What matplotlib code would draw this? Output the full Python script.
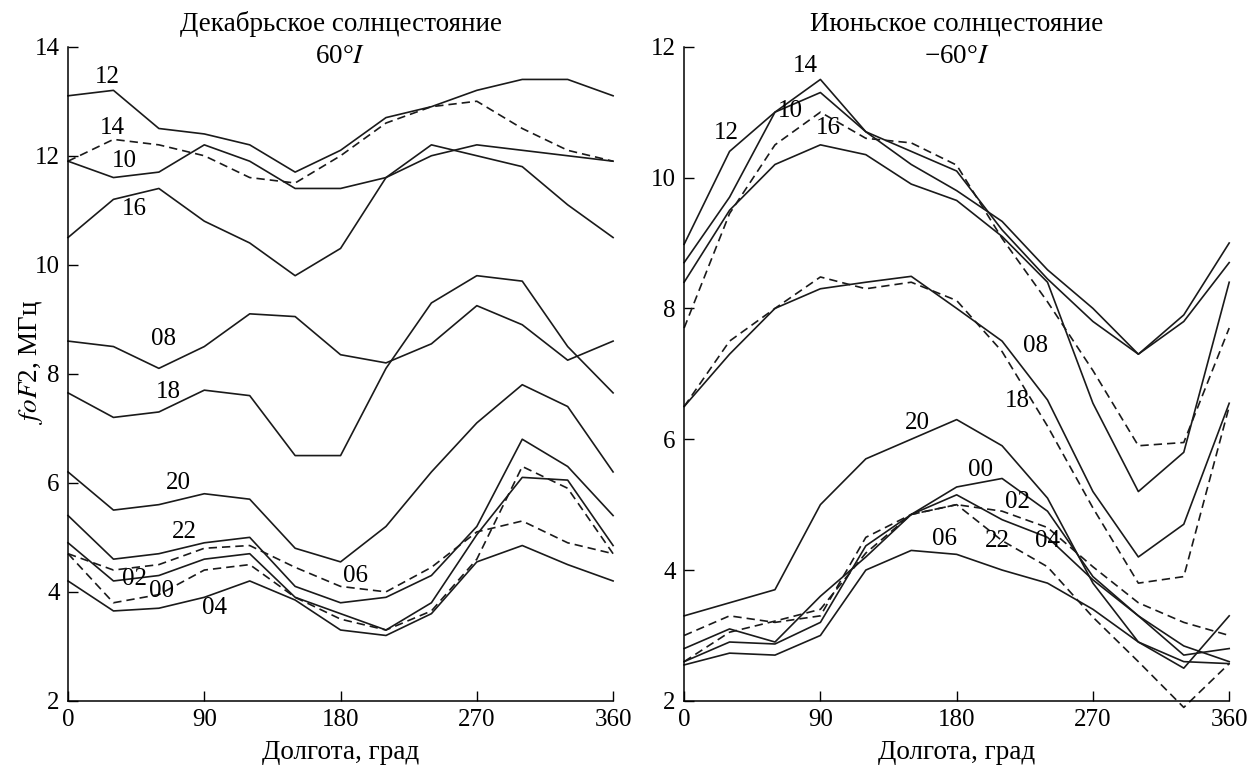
import matplotlib
matplotlib.use('Agg')
import matplotlib.pyplot as plt

# долгота, град
lon = [0, 30, 60, 90, 120, 150, 180, 210, 240, 270, 300, 330, 360]

# Декабрьское солнцестояние, 60°I
dec_12 = [13.1, 13.2, 12.5, 12.4, 12.2, 11.7, 12.1, 12.7, 12.9, 13.2, 13.4, 13.4, 13.1]
dec_14 = [11.9, 12.3, 12.2, 12.0, 11.6, 11.5, 12.0, 12.6, 12.9, 13.0, 12.5, 12.1, 11.9]
dec_10 = [11.9, 11.6, 11.7, 12.2, 11.9, 11.4, 11.4, 11.6, 12.0, 12.2, 12.1, 12.0, 11.9]
dec_16 = [10.5, 11.2, 11.4, 10.8, 10.4, 9.8, 10.3, 11.6, 12.2, 12.0, 11.8, 11.1, 10.5]
dec_08 = [8.6, 8.5, 8.1, 8.5, 9.1, 9.05, 8.35, 8.2, 8.55, 9.25, 8.9, 8.25, 8.6]
dec_18 = [7.65, 7.2, 7.3, 7.7, 7.6, 6.5, 6.5, 8.1, 9.3, 9.8, 9.7, 8.5, 7.65]
dec_20 = [6.2, 5.5, 5.6, 5.8, 5.7, 4.8, 4.55, 5.2, 6.2, 7.1, 7.8, 7.4, 6.2]
dec_22 = [5.4, 4.6, 4.7, 4.9, 5.0, 4.1, 3.8, 3.9, 4.3, 5.2, 6.8, 6.3, 5.4]
dec_02 = [4.9, 4.2, 4.3, 4.6, 4.7, 3.9, 3.6, 3.3, 3.8, 5.05, 6.1, 6.05, 4.85]
dec_00 = [4.7, 3.8, 3.95, 4.4, 4.5, 3.9, 3.5, 3.3, 3.65, 4.6, 6.3, 5.9, 4.7]
dec_06 = [4.7, 4.4, 4.5, 4.8, 4.85, 4.45, 4.1, 4.0, 4.45, 5.1, 5.3, 4.9, 4.7]
dec_04 = [4.2, 3.65, 3.7, 3.9, 4.2, 3.85, 3.3, 3.2, 3.6, 4.55, 4.85, 4.5, 4.2]

# Июньское солнцестояние, -60°I
jun_12 = [8.98, 10.4, 11.0, 11.3, 10.7, 10.2, 9.8, 9.33, 8.59, 8.0, 7.3, 7.9, 9.0]
jun_14 = [8.7, 9.7, 11.0, 11.5, 10.7, 10.4, 10.1, 9.2, 8.45, 7.8, 7.3, 7.8, 8.7]
jun_10 = [8.4, 9.5, 10.2, 10.5, 10.35, 9.9, 9.65, 9.1, 8.4, 6.55, 5.2, 5.8, 8.4]
jun_16 = [7.7, 9.45, 10.5, 11.0, 10.6, 10.53, 10.19, 9.07, 8.1, 7.05, 5.9, 5.95, 7.7]
jun_08 = [6.5, 7.3, 8.0, 8.3, 8.4, 8.49, 8.0, 7.5, 6.6, 5.2, 4.2, 4.7, 6.55]
jun_18 = [6.5, 7.5, 8.0, 8.48, 8.3, 8.4, 8.12, 7.34, 6.2, 4.95, 3.8, 3.9, 6.5]
jun_20 = [3.3, 3.5, 3.7, 5.0, 5.7, 6.0, 6.3, 5.9, 5.1, 3.8, 2.9, 2.5, 3.3]
jun_00 = [2.8, 3.1, 2.9, 3.6, 4.2, 4.85, 5.27, 5.4, 4.9, 3.9, 3.3, 2.7, 2.8]
jun_04 = [2.6, 2.9, 2.87, 3.2, 4.37, 4.85, 5.15, 4.77, 4.5, 3.85, 3.3, 2.84, 2.6]
jun_06 = [2.55, 2.73, 2.7, 3.0, 4.0, 4.3, 4.24, 4.0, 3.8, 3.4, 2.9, 2.6, 2.57]
jun_02 = [3.0, 3.3, 3.2, 3.3, 4.5, 4.85, 5.0, 4.9, 4.65, 4.05, 3.5, 3.2, 3.0]
jun_22 = [2.6, 3.05, 3.22, 3.4, 4.26, 4.85, 5.0, 4.45, 4.05, 3.28, 2.6, 1.9, 2.57]

# (series, dashed?, label, label x, label y)
dec_lines = [
    (dec_12, False, '12', 26, 13.45), (dec_14, True, '14', 29, 12.5),
    (dec_10, False, '10', 37, 11.9), (dec_16, False, '16', 44, 11.03),
    (dec_08, False, '08', 63, 8.63), (dec_18, False, '18', 66, 7.67),
    (dec_20, False, '20', 73, 6.0), (dec_22, False, '22', 77, 5.09),
    (dec_02, False, '02', 44, 4.23), (dec_00, True, '00', 62, 4.02),
    (dec_06, True, '06', 190, 4.29), (dec_04, False, '04', 97, 3.71),
]
jun_lines = [
    (jun_12, False, '12', 28, 10.68), (jun_14, False, '14', 80, 11.7),
    (jun_10, False, '10', 70, 11.01), (jun_16, True, '16', 95, 10.76),
    (jun_08, False, '08', 232, 7.43), (jun_18, True, '18', 220, 6.58),
    (jun_20, False, '20', 154, 6.25), (jun_00, False, '00', 196, 5.53),
    (jun_02, True, '02', 220, 5.04), (jun_06, False, '06', 172, 4.47),
    (jun_22, True, '22', 207, 4.45), (jun_04, False, '04', 240, 4.45),
]

plt.rcParams['font.family'] = ['Liberation Serif', 'DejaVu Serif']
plt.rcParams['mathtext.fontset'] = 'stix'
fs = 18
fs_big = 19.5

fig = plt.figure(figsize=(12.53, 7.66), dpi=100)
ax1 = fig.add_axes([0.0543, 0.085, 0.435, 0.854])
ax2 = fig.add_axes([0.546, 0.085, 0.435, 0.854])


def draw(ax, lines, ylim, title, sub):
    for ys, dashed, lab, lx, ly in lines:
        ls = (0, (5, 3)) if dashed else '-'
        ax.plot(lon, ys, color='#1a1a1a', lw=1.2, linestyle=ls, clip_on=False)
        ax.text(lx, ly, lab, fontsize=fs, ha='center', va='center')
    ax.set_xlim(0, 360)
    ax.set_ylim(*ylim)
    ax.set_xticks([0, 90, 180, 270, 360])
    ax.set_yticks(range(ylim[0], ylim[1] + 1, 2))
    ax.tick_params(direction='in', length=7, width=1, labelsize=fs, pad=6)
    for s in ['top', 'right']:
        ax.spines[s].set_visible(False)
    for s in ['left', 'bottom']:
        ax.spines[s].set_linewidth(1.1)
    ax.set_xlabel('Долгота, град', fontsize=fs_big, labelpad=6)
    ax.text(0.5, 1.034, title, transform=ax.transAxes, fontsize=fs_big, ha='center', va='center')
    ax.text(0.5, 0.985, sub, transform=ax.transAxes, fontsize=fs_big, ha='center', va='center')


draw(ax1, dec_lines, (2, 14), 'Декабрьское солнцестояние', '60°$\\mathit{I}$')
draw(ax2, jun_lines, (2, 12), 'Июньское солнцестояние', '−60°$\\mathit{I}$')
ax1.set_ylabel('$\\mathit{foF}$2, МГц', fontsize=fs_big)
ax1.yaxis.set_label_coords(-0.043, 0.518)

fig.savefig('out.png', dpi=100)
